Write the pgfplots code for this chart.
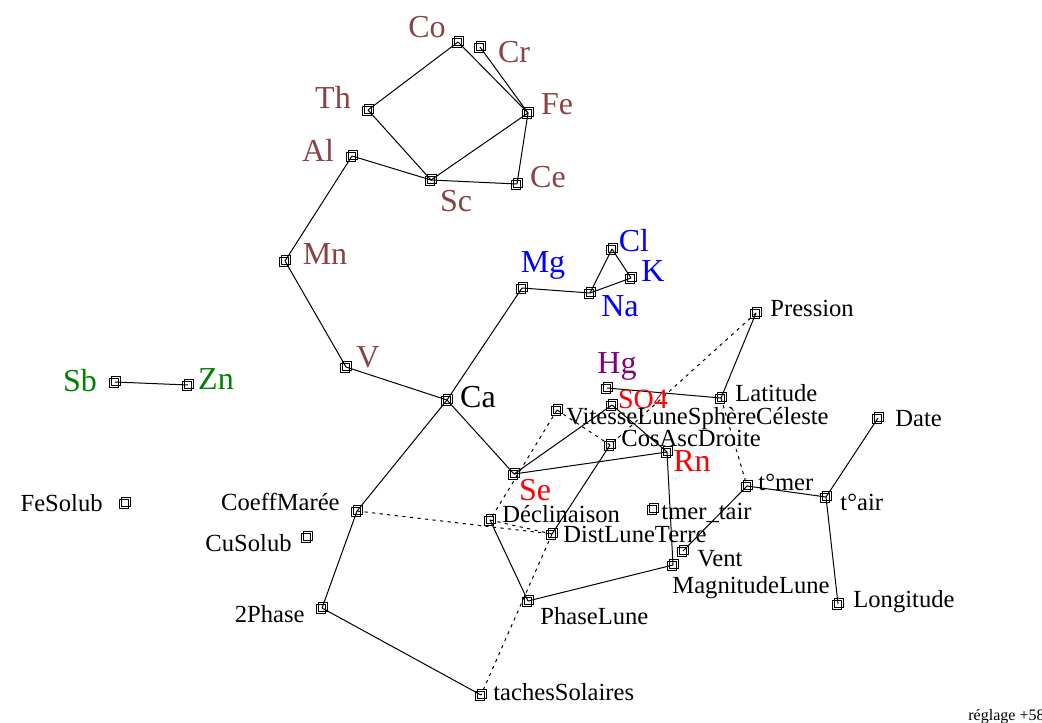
\documentclass[border=0pt]{standalone}
\usepackage{fontspec}
\setmainfont{Liberation Serif}
\usepackage{pgfplots}
\pgfplotsset{compat=1.18}
\usepackage{pgfplotstable}

\definecolor{brn}{RGB}{140,66,66}
\definecolor{blu}{RGB}{0,0,255}
\definecolor{grn}{RGB}{0,128,0}
\definecolor{prp}{RGB}{128,0,128}
\definecolor{rd}{RGB}{255,0,0}

\newcommand\Lg{\fontsize{16}{18}\selectfont}
\newcommand\Md{\fontsize{14}{16}\selectfont}
\newcommand\Sm{\fontsize{12.3}{14}\selectfont}

\pgfdeclareplotmark{nodebox}{%
  \pgfpathrectangle{\pgfpoint{-3.0pt}{-2.8pt}}{\pgfpoint{4.6pt}{4.4pt}}%
  \pgfpathrectangle{\pgfpoint{-1.8pt}{-1.7pt}}{\pgfpoint{4.6pt}{4.4pt}}%
  \pgfusepathqstroke}

% node positions (pixels, y downwards)
\pgfplotstableread{
x y
458 42
480 47
368 110
528 113
352 156
431 180
517 184
285 261
346 367
447 400
522 288
590 293
612 249
631 278
756 313
607 388
612 405
721 398
557 410
610 445
667 452
514 474
878 418
747 486
826 497
653 509
490 520
552 534
357 511
307 537
125 503
115 382
188 385
683 551
673 565
838 604
528 601
322 608
481 695
}\nodestab

\begin{document}
\begin{tikzpicture}
\begin{axis}[x=0.5pt, y=0.5pt, y dir=reverse,
  xmin=0, xmax=1042, ymin=0, ymax=722,
  hide axis, clip=false,
  edge/.style={black, line width=0.5pt, no markers},
  dedge/.style={black, line width=0.5pt, no markers, dash pattern=on 1.6pt off 2.2pt}]
\fill[white] (axis cs:0,0) rectangle (axis cs:1042,722);

% solid edges
\addplot[edge] coordinates {(458,42) (368,110)};
\addplot[edge] coordinates {(458,42) (528,113)};
\addplot[edge] coordinates {(480,47) (528,113)};
\addplot[edge] coordinates {(368,110) (431,180)};
\addplot[edge] coordinates {(431,180) (528,113)};
\addplot[edge] coordinates {(528,113) (517,184)};
\addplot[edge] coordinates {(431,180) (517,184)};
\addplot[edge] coordinates {(352,156) (431,180)};
\addplot[edge] coordinates {(352,156) (285,261)};
\addplot[edge] coordinates {(285,261) (346,367)};
\addplot[edge] coordinates {(346,367) (447,400)};
\addplot[edge] coordinates {(447,400) (522,288)};
\addplot[edge] coordinates {(522,288) (590,293)};
\addplot[edge] coordinates {(590,293) (612,249)};
\addplot[edge] coordinates {(612,249) (631,278)};
\addplot[edge] coordinates {(590,293) (631,278)};
\addplot[edge] coordinates {(115,382) (188,385)};
\addplot[edge] coordinates {(447,400) (514,474)};
\addplot[edge] coordinates {(447,400) (357,511)};
\addplot[edge] coordinates {(357,511) (322,608)};
\addplot[edge] coordinates {(322,608) (481,695)};
\addplot[edge] coordinates {(514,474) (612,405)};
\addplot[edge] coordinates {(514,474) (667,452)};
\addplot[edge] coordinates {(612,405) (667,452)};
\addplot[edge] coordinates {(607,388) (721,398)};
\addplot[edge] coordinates {(721,398) (756,313)};
\addplot[edge] coordinates {(667,452) (673,565)};
\addplot[edge] coordinates {(610,445) (552,534)};
\addplot[edge] coordinates {(490,520) (528,601)};
\addplot[edge] coordinates {(528,601) (673,565)};
\addplot[edge] coordinates {(747,486) (826,497)};
\addplot[edge] coordinates {(826,497) (878,418)};
\addplot[edge] coordinates {(826,497) (838,604)};
\addplot[edge] coordinates {(747,486) (683,551)};

% dashed edges
\addplot[dedge] coordinates {(357,511) (552,534)};
\addplot[dedge] coordinates {(490,520) (552,534)};
\addplot[dedge] coordinates {(557,410) (490,520)};
\addplot[dedge] coordinates {(552,534) (481,695)};
\addplot[dedge] coordinates {(756,313) (610,445)};
\addplot[dedge] coordinates {(721,398) (747,486)};
\addplot[dedge] coordinates {(557,410) (610,445)};

% nodes
\addplot[only marks, mark=nodebox, black, line width=0.45pt] table {\nodestab};

% labels
\node[brn, font=\Lg] at (axis cs:427,27) {Co};
\node[brn, font=\Lg] at (axis cs:514,52) {Cr};
\node[brn, font=\Lg] at (axis cs:333,97) {Th};
\node[brn, font=\Lg] at (axis cs:557,104) {Fe};
\node[brn, font=\Lg] at (axis cs:318,150) {Al};
\node[brn, font=\Lg] at (axis cs:456,201) {Sc};
\node[brn, font=\Lg] at (axis cs:548,177) {Ce};
\node[brn, font=\Lg] at (axis cs:325,254) {Mn};
\node[brn, font=\Lg] at (axis cs:368,357) {V};
\node[black, font=\Lg] at (axis cs:478,397) {Ca};
\node[blu, font=\Lg] at (axis cs:543,265) {Mg};
\node[blu, font=\Lg] at (axis cs:620,306) {Na};
\node[blu, font=\Lg] at (axis cs:634,241) {Cl};
\node[blu, font=\Lg] at (axis cs:653,271) {K};
\node[prp, font=\Lg] at (axis cs:617,366) {Hg};
\node[rd, font=\Md] at (axis cs:643,399) {SO4};
\node[rd, font=\Lg] at (axis cs:692,461) {Rn};
\node[rd, font=\Lg] at (axis cs:535,490) {Se};
\node[grn, font=\Lg] at (axis cs:80,381) {Sb};
\node[grn, font=\Lg] at (axis cs:216,379) {Zn};

\begin{scope}[every node/.append style={inner sep=0pt}]
\node[anchor=west, font=\Sm] at (axis cs:770,308) {Pression};
\node[anchor=west, font=\Sm] at (axis cs:735,393) {Latitude};
\node[anchor=west, font=\Sm] at (axis cs:566,419) {VitesseLuneSphèreCéleste};
\node[anchor=west, font=\Sm] at (axis cs:621,438) {CosAscDroite};
\node[anchor=west, font=\Sm] at (axis cs:895,419) {Date};
\node[anchor=west, font=\Sm] at (axis cs:758,482) {t°mer};
\node[anchor=west, font=\Sm] at (axis cs:840,502) {t°air};
\node[anchor=west, font=\Sm] at (axis cs:661,513) {tmer\_tair};
\node[anchor=west, font=\Sm] at (axis cs:502,514) {Déclinaison};
\node[anchor=west, font=\Sm] at (axis cs:563,534) {DistLuneTerre};
\node[anchor=east, font=\Sm] at (axis cs:340,502) {CoeffMarée};
\node[anchor=east, font=\Sm] at (axis cs:292,543) {CuSolub};
\node[anchor=east, font=\Sm] at (axis cs:103,503) {FeSolub};
\node[anchor=west, font=\Sm] at (axis cs:697,559) {Vent};
\node[anchor=west, font=\Sm] at (axis cs:672,588) {MagnitudeLune};
\node[anchor=west, font=\Sm] at (axis cs:853,602) {Longitude};
\node[anchor=west, font=\Sm] at (axis cs:540,616) {PhaseLune};
\node[anchor=east, font=\Sm] at (axis cs:305,614) {2Phase};
\node[anchor=west, font=\Sm] at (axis cs:493,692) {tachesSolaires};
\node[anchor=west, font=\fontsize{8}{9}\selectfont] at (axis cs:968,717) {réglage +58};
\end{scope}
\end{axis}
\pgfresetboundingbox
\path[use as bounding box] (current axis.south west) rectangle (current axis.north east);
\end{tikzpicture}
\end{document}
